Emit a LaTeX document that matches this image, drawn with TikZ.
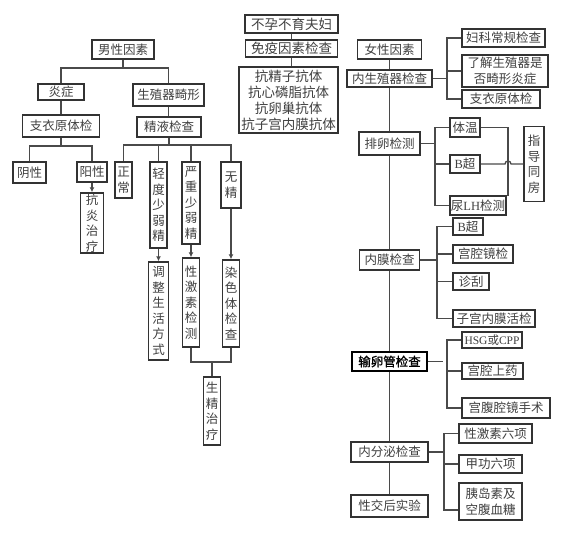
\documentclass[tikz,border=0pt]{standalone}
\usepackage{fontspec}
\setmainfont{Noto Sans CJK SC}
\newfontfamily\lat{Liberation Serif}
\newfontfamily\cjkb[FakeBold=1.2]{Noto Sans CJK SC}
\usetikzlibrary{arrows.meta}
\definecolor{lc}{HTML}{4A4A4A}
\definecolor{bc}{HTML}{333333}
\definecolor{tc}{HTML}{404040}
\begin{document}
\begin{tikzpicture}[x=1pt,y=-1pt,
  bx/.style={draw=bc, line width=1.5pt, fill=white, text=tc, inner sep=0pt,
    font=\fontsize{12.5}{15.5}\selectfont, align=center},
  mid/.style={bx, font=\fontsize{13.5}{16}\selectfont},
  cn/.style={draw=lc, line width=1.3pt},
  ar/.style={cn, -{Latex[length=5pt,width=5pt]}}]
\useasboundingbox[fill=white] (0,0) rectangle (565,533);

% ---------- male side ----------
\node[bx, minimum width=62pt, minimum height=19pt] (male) at (123,49.5) {男性因素};
\node[bx, minimum width=46pt, minimum height=16pt] (yz) at (61,92) {炎症};
\node[bx, minimum width=71pt, minimum height=22pt] (sz) at (168.5,95) {生殖器畸形};
\node[bx, minimum width=77pt, minimum height=22pt] (zy1) at (61,126) {支衣原体检};
\node[bx, minimum width=64pt, minimum height=20pt] (jy) at (169,127) {精液检查};
\node[bx, minimum width=33pt, minimum height=21pt] (yin) at (29.5,172.5) {阴性};
\node[bx, minimum width=30pt, minimum height=20pt] (yang) at (92,172) {阳性};
\node[bx, minimum width=23pt, minimum height=60pt] (kyzl) at (92,223) {抗\\炎\\治\\疗};
\node[bx, minimum width=17pt, minimum height=36pt] (zc) at (123.5,180) {正\\常};
\node[bx, minimum width=17pt, minimum height=86pt] (qd) at (158.5,205) {轻\\度\\少\\弱\\精};
\node[bx, minimum width=18pt, minimum height=82pt] (yzj) at (191,203) {严\\重\\少\\弱\\精};
\node[bx, minimum width=20pt, minimum height=46pt] (wj) at (231,185) {无\\精};
\node[bx, minimum width=20pt, minimum height=98pt] (tz) at (158.5,311) {调\\整\\生\\活\\方\\式};
\node[bx, minimum width=17pt, minimum height=89pt] (xjs) at (191,302.5) {性\\激\\素\\检\\测};
\node[bx, minimum width=17pt, minimum height=87pt] (rst) at (231,303.5) {染\\色\\体\\检\\查};
\node[bx, minimum width=17pt, minimum height=68pt] (szzl) at (212,411) {生\\精\\治\\疗};

\coordinate (j1) at (123,68);
\draw[cn] (male.south) -- (j1);
\draw[cn] (yz.north) |- (j1) -| (sz.north);
\draw[cn] (yz.south) -- (yz.south |- zy1.north);
\draw[cn] (sz.south) -- (sz.south |- jy.north);
\coordinate (j2) at (61,146);
\draw[cn] (zy1.south) -- (j2);
\draw[cn] (yin.north) |- (j2) -| (yang.north);
\draw[ar] (yang.south) -- (yang.south |- kyzl.north);
\coordinate (j3) at (169,145);
\draw[cn] (jy.south) -- (j3);
\draw[cn] (zc.north) |- (j3) -| (wj.north);
\draw[cn] (qd.north) -- (qd.north |- j3);
\draw[cn] (yzj.north) -- (yzj.north |- j3);
\draw[ar] (qd.south) -- (qd.south |- tz.north);
\draw[ar] (yzj.south) -- (yzj.south |- xjs.north);
\draw[ar] (wj.south) -- (wj.south |- rst.north);
\coordinate (j4) at (212,362);
\draw[cn] (xjs.south) |- (j4) -| (rst.south);
\draw[cn] (j4) -- (szzl.north);

% ---------- middle ----------
\node[mid, minimum width=93pt, minimum height=18pt] (bybf) at (291.5,24) {不孕不育夫妇};
\node[mid, minimum width=92pt, minimum height=17pt] (myys) at (291.5,48.5) {免疫因素检查};
\node[mid, minimum width=99pt, minimum height=66pt] (kt) at (288.5,100) {抗精子抗体\\抗心磷脂抗体\\抗卵巢抗体\\抗子宫内膜抗体};
\draw[cn] (bybf.south) -- (myys.north);
\draw[cn] (myys.south) -- (myys.south |- kt.north);

% ---------- female side ----------
\node[bx, minimum width=64pt, minimum height=19pt] (nx) at (389.5,49.5) {女性因素};
\node[bx, minimum width=85pt, minimum height=17pt] (nszq) at (389.5,78.5) {内生殖器检查};
\node[bx, minimum width=83pt, minimum height=18pt] (fk) at (503.5,38) {妇科常规检查};
\node[bx, minimum width=86pt, minimum height=32pt] (lj) at (505,71) {了解生殖器是\\否畸形炎症};
\node[bx, minimum width=78pt, minimum height=18pt] (zy2) at (501,99) {支衣原体检};
\node[bx, minimum width=61pt, minimum height=23pt] (pl) at (389.5,143.5) {排卵检测};
\node[bx, minimum width=30pt, minimum height=19pt] (tw) at (465,127.5) {体温};
\node[bx, minimum width=30pt, minimum height=18pt] (bc1) at (465,164) {{\lat B}超};
\node[bx, minimum width=56pt, minimum height=19pt] (lh) at (478,205.5) {尿{\lat LH}检测};
\node[bx, minimum width=20pt, minimum height=75pt] (zd) at (534,164) {指\\导\\同\\房};
\node[bx, minimum width=60pt, minimum height=20pt] (nm) at (389.5,260) {内膜检查};
\node[bx, minimum width=30pt, minimum height=17pt] (bc2) at (468,226.5) {{\lat B}超};
\node[bx, minimum width=60pt, minimum height=18pt] (gqj) at (483,254) {宫腔镜检};
\node[bx, minimum width=36pt, minimum height=17pt] (zg) at (471,281.5) {诊刮};
\node[bx, minimum width=82pt, minimum height=17pt] (zgnm) at (494,318.5) {子宫内膜活检};
\node[bx, draw=black, line width=1.6pt, text=black, font=\cjkb\fontsize{12.5}{15.5}\selectfont,
      minimum width=75pt, minimum height=19pt] (slg) at (389.5,361.5) {输卵管检查};
\node[bx, font=\fontsize{11.5}{14}\selectfont, minimum width=60pt, minimum height=16pt] (hsg) at (492,340) {{\lat HSG}或{\lat CPP}};
\node[bx, minimum width=61pt, minimum height=16pt] (gqsy) at (492.5,371) {宫腔上药};
\node[bx, minimum width=88pt, minimum height=20pt] (gfq) at (506,408) {宫腹腔镜手术};
\node[bx, minimum width=77pt, minimum height=20pt] (nfm) at (389.5,452) {内分泌检查};
\node[bx, minimum width=73pt, minimum height=19pt] (xj6) at (495.5,433.5) {性激素六项};
\node[bx, minimum width=63pt, minimum height=18pt] (jg) at (490.5,464) {甲功六项};
\node[bx, minimum width=63pt, minimum height=37pt] (yds) at (490.5,501.5) {胰岛素及\\空腹血糖};
\node[bx, minimum width=77pt, minimum height=22pt] (xj) at (389.5,506) {性交后实验};

% trunk
\draw[cn] (nx.south) -- (nszq.north);
\draw[cn] (nszq.south) -- (pl.north);
\draw[cn] (pl.south) -- (nm.north);
\draw[cn] (nm.south) -- (slg.north);
\draw[cn] (slg.south) -- (nfm.north);
\draw[cn] (nfm.south) -- (xj.north);

% branches
\coordinate (r1) at (447,78.5);
\draw[cn] (nszq.east) -- (r1);
\draw[cn] (fk.west) -| (r1);
\draw[cn] (lj.west) -| (r1);
\draw[cn] (zy2.west) -| (r1);

\coordinate (r2) at (435,143.5);
\draw[cn] (pl.east) -- (r2);
\draw[cn] (tw.west) -| (r2);
\draw[cn] (bc1.west) -| (r2);
\draw[cn] (lh.west) -| (r2);

\coordinate (zt) at (508,127.5);
\coordinate (zb) at (508,196);
\coordinate (jl) at (505,164);
\draw[cn] (tw.east) -- (zt) -- (zb);
\draw[cn] (bc1.east) -- (jl) arc[start angle=180, end angle=0, radius=3pt] -- (zd.west);

\coordinate (r3) at (437,260);
\draw[cn] (nm.east) -- (r3);
\draw[cn] (bc2.west) -| (r3);
\draw[cn] (gqj.west) -| (r3);
\draw[cn] (zg.west) -| (r3);
\draw[cn] (zgnm.west) -| (r3);

\coordinate (r4) at (447,361.5);
\coordinate (r4s) at (443,361.5);
\draw[cn] (slg.east) -- (r4s);
\draw[cn] (hsg.west) -| (r4);
\draw[cn] (gqsy.west) -| (r4);
\draw[cn] (gfq.west) -| (r4);

\coordinate (r5) at (444,452);
\draw[cn] (nfm.east) -- (r5);
\draw[cn] (xj6.west) -| (r5);
\draw[cn] (jg.west) -| (r5);
\draw[cn] ([yshift=-8.5pt]yds.west) -| (r5);
\end{tikzpicture}
\end{document}
